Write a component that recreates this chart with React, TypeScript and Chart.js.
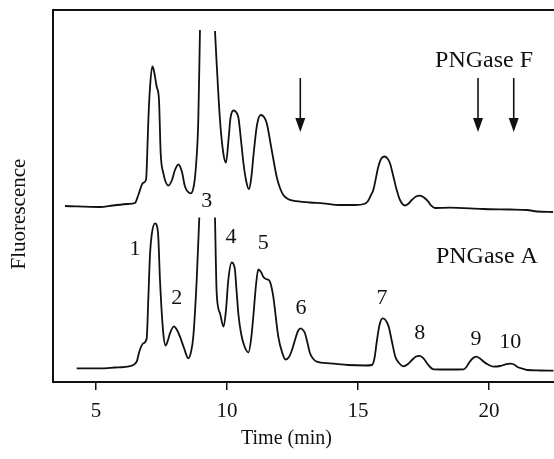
import React, { useEffect, useRef } from "react";
import { Chart, registerables } from "chart.js";

Chart.register(...registerables);

// PNGase F trace (upper)
const fTimes = [
  3.817, 5.153, 5.649, 6.221, 6.489, 6.603, 6.794, 6.908, 6.935, 6.996, 7.061, 7.149, 7.206, 7.317,
  7.405, 7.469, 7.569, 7.767, 7.901, 8.015, 8.149, 8.282, 8.397, 8.626, 8.74, 8.798, 8.905, 8.969,
  9.25,
  9.542, 9.599, 9.733, 9.859, 9.962, 10.057, 10.134, 10.248, 10.344, 10.439, 10.534, 10.63, 10.725,
  10.832, 10.916, 11.031, 11.145, 11.286, 11.412, 11.515, 11.706, 11.897, 12.023, 12.149, 12.328,
  12.531, 13.168, 13.664, 14.313, 14.885, 15.229, 15.382, 15.496, 15.584, 15.775, 15.878, 16.011,
  16.126, 16.221, 16.336, 16.477, 16.603, 16.794, 16.908, 17.05, 17.214, 17.366, 17.519, 17.683,
  17.786, 17.939, 18.511, 19.771, 20.802, 21.45, 21.832, 22.443,
];
const fValues = [
  47.31, 47.04, 47.45, 47.85, 48.12, 50.0, 53.49, 54.3, 56.99, 69.89, 79.03, 84.81, 83.87, 79.38,
  75.81, 61.56, 56.18, 52.82, 54.3, 56.99, 58.47, 56.45, 52.55, 50.73, 52.96, 56.45, 70.43, 94.62,
  null,
  94.35, 86.56, 70.43, 61.56, 58.95, 65.05, 70.97, 72.98, 72.58, 70.97, 65.05, 58.74, 54.3,
  51.88, 54.3, 62.37, 69.09, 71.77, 71.24, 69.62, 62.37, 55.19, 52.15, 50.27, 49.19,
  48.74, 48.25, 48.04, 47.58, 47.58, 47.85, 48.66, 50.27, 51.61, 57.88, 59.95, 60.62,
  60.08, 58.79, 55.65, 51.61, 48.92, 47.45, 47.85, 48.92, 49.87, 50.08, 49.6, 48.47,
  47.45, 46.77, 46.85, 46.51, 46.37, 46.24, 45.83, 45.7,
];

// PNGase A trace (lower)
const aTimes = [
  4.263, 5.153, 5.725, 6.298, 6.553, 6.653, 6.805, 6.935, 6.996, 7.061, 7.126, 7.252, 7.328, 7.378,
  7.443, 7.569, 7.66, 7.748, 7.824, 7.977, 8.092, 8.206, 8.359, 8.523, 8.626, 8.714, 8.844, 8.943,
  9.25,
  9.542, 9.607, 9.733, 9.87, 9.962, 10.05, 10.179, 10.248, 10.305, 10.363, 10.439, 10.534, 10.649,
  10.821, 10.916, 11.004, 11.107, 11.195, 11.298, 11.385, 11.489, 11.615, 11.698, 11.767, 11.958,
  12.099, 12.233, 12.366, 12.481, 12.595, 12.71, 12.813, 12.901, 12.977, 13.073, 13.168, 13.282,
  13.424, 13.931, 14.63, 15.267, 15.534, 15.63, 15.725, 15.821, 15.935, 16.05, 16.172, 16.298,
  16.424, 16.565, 16.744, 16.908, 17.061, 17.214, 17.359, 17.5, 17.634, 17.748, 17.889, 18.511,
  19.034, 19.122, 19.225, 19.37, 19.511, 19.656, 19.798, 19.962, 20.172, 20.431, 20.611, 20.832,
  20.992, 21.069, 21.26, 21.45, 21.947, 22.462,
];
const aValues = [
  3.68, 3.68, 3.9, 4.3, 5.46, 8.15, 10.4, 11.69, 22.04, 34.14, 39.52, 42.66, 41.94, 39.06,
  27.42, 13.09, 9.81, 11.29, 13.09, 14.97, 13.98, 12.18, 9.14, 6.37, 8.06, 12.18, 27.42, 44.22,
  null,
  44.22, 23.84, 18.47, 14.87, 19.35, 27.42, 32.12, 31.72, 30.11, 24.73, 18.01, 13.17, 9.95,
  7.93, 11.29, 17.55, 26.08, 30.24, 29.57, 28.31, 27.69, 27.28, 25.54, 22.93, 12.18,
  8.06, 6.05, 6.72, 8.6, 11.29, 13.71, 14.44, 13.98, 13.09, 10.48, 7.72, 6.32,
  5.46, 5.03, 4.57, 4.44, 4.57, 6.45, 11.29, 15.32, 17.12, 16.67, 14.87, 10.75,
  6.8, 5.11, 4.22, 4.84, 5.91, 6.85, 7.04, 6.32, 5.03, 4.03, 3.41, 3.36,
  3.41, 3.9, 5.03, 6.32, 6.8, 6.32, 5.46, 4.7, 4.11, 4.3, 4.7, 4.95,
  4.57, 4.11, 3.63, 3.23, 3.09, 3.04,
];

const xTicks = [5, 10, 15, 20];

const peakLabels = ["1", "2", "3", "4", "5", "6", "7", "8", "9", "10"];
const peakLabelTimes = [6.489, 8.08, 9.225, 10.153, 11.385, 12.824, 15.916, 17.355, 19.504, 20.813];
const peakLabelValues = [35.75, 22.5, 48.47, 38.98, 37.29, 19.81, 22.5, 13.09, 11.48, 10.56];

const traceNames = ["PNGase F", "PNGase A"];
const traceNameTimes = [19.81, 19.92];
const traceNameValues = [86.3, 33.6];

const arrowTimes = [12.798, 19.58, 20.943];
const arrowTopValue = 81.7;
const arrowTipValue = 67.2;

const xTitle = "Time (min)";
const yTitle = "Fluorescence";

const INK = "#111";
const SERIF = '"Liberation Serif", "Times New Roman", serif';

export default function App() {
  const ref = useRef<HTMLCanvasElement>(null);

  useEffect(() => {
    if (!ref.current) return;
    const toXY = (ts: number[], vs: (number | null)[]) => ts.map((t, i) => ({ x: t, y: vs[i] }));

    const annotations = {
      id: "annotations",
      afterDatasetsDraw(chart: any) {
        const { ctx, scales, chartArea } = chart;
        const xs = scales.x;
        const ys = scales.y;
        ctx.save();
        ctx.fillStyle = INK;
        ctx.strokeStyle = INK;
        ctx.textAlign = "center";
        ctx.textBaseline = "middle";

        ctx.font = `22px ${SERIF}`;
        peakLabels.forEach((s, i) => {
          ctx.fillText(s, xs.getPixelForValue(peakLabelTimes[i]), ys.getPixelForValue(peakLabelValues[i]));
        });

        ctx.font = `24px ${SERIF}`;
        traceNames.forEach((s, i) => {
          ctx.fillText(s, xs.getPixelForValue(traceNameTimes[i]), ys.getPixelForValue(traceNameValues[i]));
        });

        // arrows
        ctx.lineWidth = 1.6;
        arrowTimes.forEach((t) => {
          const x = xs.getPixelForValue(t);
          const y0 = ys.getPixelForValue(arrowTopValue);
          const y1 = ys.getPixelForValue(arrowTipValue);
          ctx.beginPath();
          ctx.moveTo(x, y0);
          ctx.lineTo(x, y1 - 10);
          ctx.stroke();
          ctx.beginPath();
          ctx.moveTo(x - 5, y1 - 14);
          ctx.lineTo(x + 5, y1 - 14);
          ctx.lineTo(x, y1);
          ctx.closePath();
          ctx.fill();
        });

        // axis titles
        ctx.font = `20px ${SERIF}`;
        ctx.fillText(xTitle, xs.getPixelForValue(12.27), chartArea.bottom + 57);
        ctx.font = `21px ${SERIF}`;
        ctx.translate(19, (chartArea.top + chartArea.bottom) / 2 + 18);
        ctx.rotate(-Math.PI / 2);
        ctx.fillText(yTitle, 0, 0);
        ctx.restore();
      },
    };

    const chart = new Chart(ref.current, {
      type: "line",
      data: {
        datasets: [
          {
            label: traceNames[0],
            data: toXY(fTimes, fValues) as any,
            borderColor: INK,
            borderWidth: 1.8,
            pointRadius: 0,
            tension: 0.4,
            cubicInterpolationMode: "monotone",
            spanGaps: false,
            fill: false,
          },
          {
            label: traceNames[1],
            data: toXY(aTimes, aValues) as any,
            borderColor: INK,
            borderWidth: 1.8,
            pointRadius: 0,
            tension: 0.4,
            cubicInterpolationMode: "monotone",
            spanGaps: false,
            fill: false,
          },
        ],
      },
      options: {
        responsive: false,
        animation: false,
        layout: { padding: 0 },
        plugins: {
          legend: { display: false },
          tooltip: { enabled: false },
          title: { display: false },
        },
        scales: {
          x: {
            type: "linear",
            position: "bottom",
            min: 3.36,
            max: 22.48,
            afterBuildTicks: (s: any) => {
              s.ticks = xTicks.map((v) => ({ value: v }));
            },
            afterFit: (s: any) => {
              s.height = 77;
            },
            ticks: {
              color: INK,
              font: { family: SERIF, size: 21 },
              padding: 9,
              maxRotation: 0,
              autoSkip: false,
            },
            grid: {
              display: true,
              drawOnChartArea: false,
              drawTicks: true,
              tickLength: 8,
              color: INK,
              lineWidth: 1.5,
            },
            border: { display: true, color: INK, width: 2 },
          },
          xTop: {
            type: "linear",
            position: "top",
            min: 3.36,
            max: 22.48,
            ticks: { display: false },
            grid: { display: false },
            border: { display: true, color: INK, width: 2 },
            afterFit: (s: any) => {
              s.height = 10;
            },
          },
          y: {
            type: "linear",
            position: "left",
            min: 0,
            max: 100,
            ticks: { display: false },
            grid: { display: false },
            border: { display: true, color: INK, width: 2 },
            afterFit: (s: any) => {
              s.width = 53;
            },
          },
        },
      } as any,
      plugins: [annotations],
    });
    return () => chart.destroy();
  }, []);

  return (
    <div style={{ position: "fixed", left: 0, top: 0, width: 554, height: 459, background: "#fff" }}>
      <canvas ref={ref} width={554} height={459} style={{ display: "block" }} />
    </div>
  );
}
